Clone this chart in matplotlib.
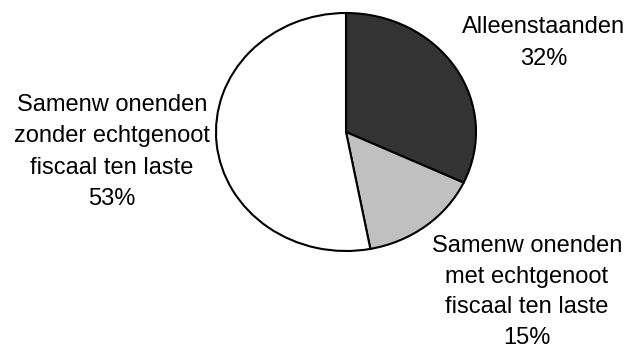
import matplotlib.pyplot as plt

# Huishoudtypes en aandeel (%)
labels = ["Alleenstaanden",
          "Samenw onenden\nmet echtgenoot\nfiscaal ten laste",
          "Samenw onenden\nzonder echtgenoot\nfiscaal ten laste"]
shares = [32, 15, 53]
colors = ["#333333", "#c0c0c0", "#ffffff"]

W, H = 631, 350
fig = plt.figure(figsize=(W / 100, H / 100), dpi=100)
plt.rcParams["font.family"] = ["Liberation Sans", "DejaVu Sans"]

# taart iets uitgerekt in de breedte
left, top, right, bottom = 216, 13, 476, 251
ax = fig.add_axes([left / W, 1 - bottom / H, (right - left) / W, (bottom - top) / H])
ax.pie(shares, colors=colors, startangle=90, counterclock=False,
       wedgeprops=dict(edgecolor="black", linewidth=1.5))
ax.set_aspect("auto")
ax.set_xlim(-1.0, 1.0)
ax.set_ylim(-1.0, 1.0)
ax.axis("off")

# labelposities in pixels (midden van het tekstblok) en regelafstand
label_pos = [(544, 43), (527, 292), (112, 152)]
spacing = [1.56, 1.5, 1.56]
for lab, val, (x, y), ls in zip(labels, shares, label_pos, spacing):
    fig.text(x / W, 1 - y / H, f"{lab}\n{val}%", ha="center", va="center",
             fontsize=17, linespacing=ls)

fig.savefig("out.png", dpi=100)
